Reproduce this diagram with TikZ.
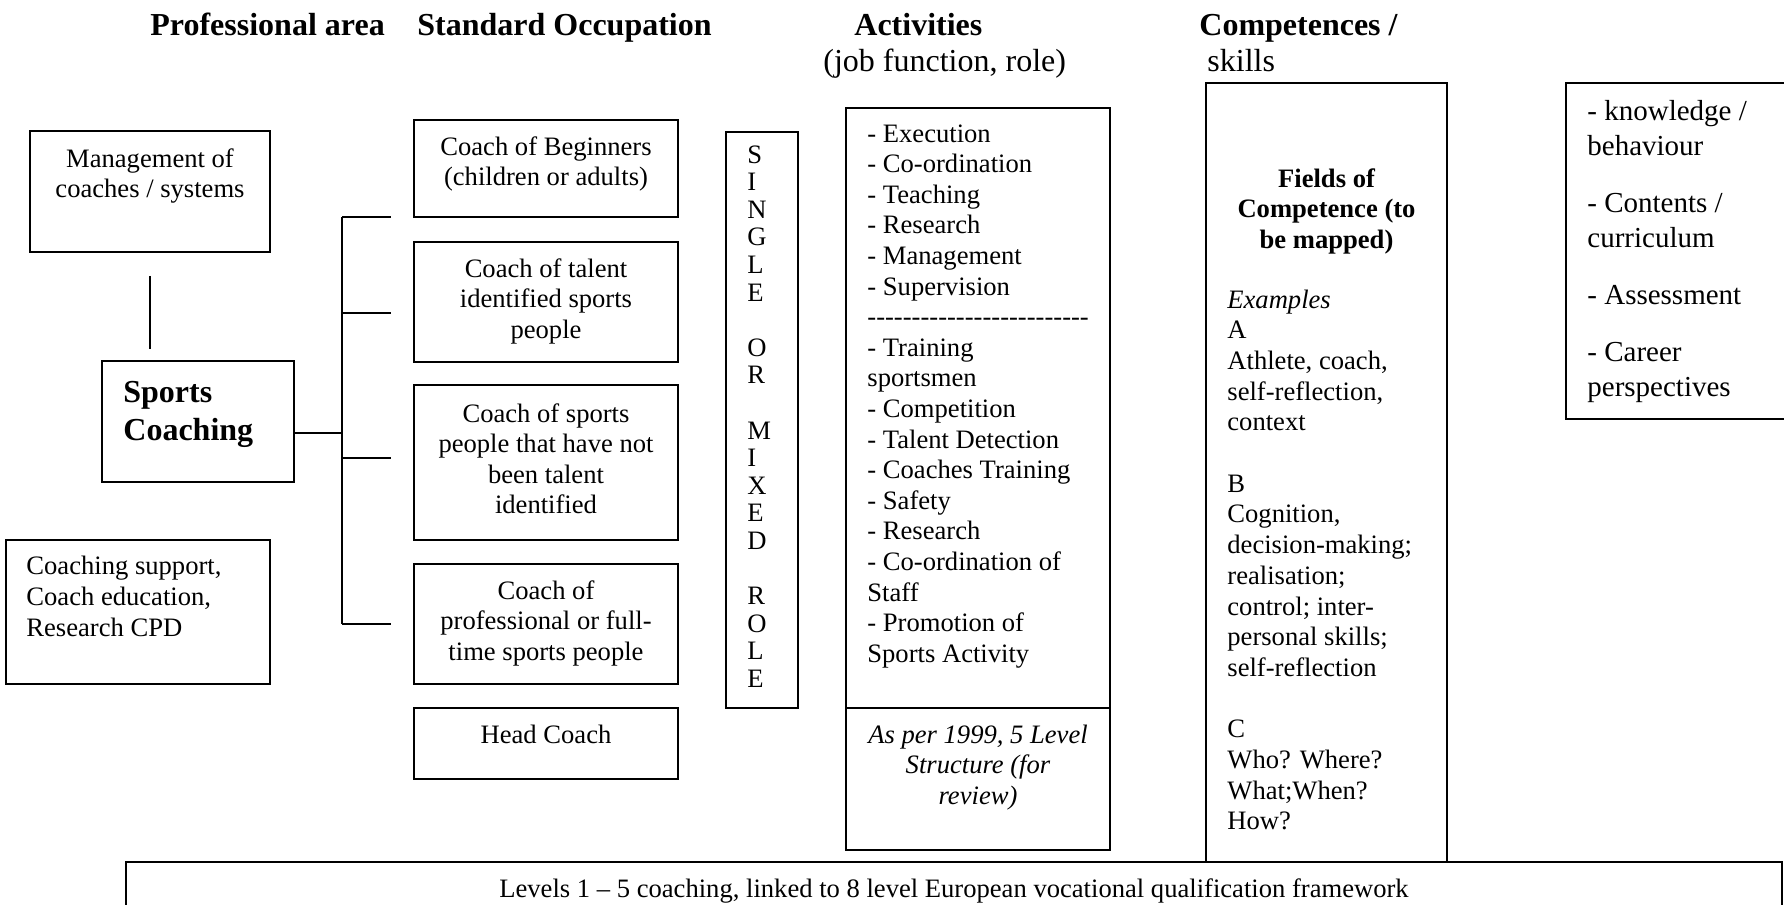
\documentclass[tikz,border=0pt]{standalone}
\usepackage{fontspec}
\setmainfont{Liberation Serif}
\usetikzlibrary{fit,calc}
\newcommand\Lc[1]{\vtop{\halign{\hfil##\hfil\cr#1\crcr}}}
\newcommand\Ll[1]{\vtop{\halign{##\hfil\cr#1\crcr}}}
\newcommand\hy{\mbox{-}}
\newcommand\hyfive{\hy\hy\hy\hy\hy}
\begin{document}
\begin{tikzpicture}[x=0.5pt,y=-0.5pt,
  box/.style={draw, line width=0.9pt, inner sep=0pt},
  conn/.style={line width=0.9pt},
  txt/.style={inner sep=0pt, font=\fontsize{13.3pt}{15.3pt}\selectfont},
  big/.style={inner sep=0pt, font=\fontsize{14.5pt}{17.5pt}\selectfont},
  hdr/.style={inner sep=0pt, font=\fontsize{16pt}{19pt}\selectfont\bfseries},
  hdrn/.style={inner sep=0pt, font=\fontsize{16pt}{19pt}\selectfont}]
\useasboundingbox (0,0) rectangle (1784,905);

% headers
\node[hdr, anchor=base west] (hpa) at (150,35) {Professional area};
\node[hdr, anchor=base west] (hso) at (417,35) {Standard Occupation};
\node[hdr, anchor=base west] (hac) at (854,35) {Activities};
\node[hdrn, anchor=base west] (hjf) at (823,71) {(job function, role)};
\node[hdr, anchor=base west] (hco) at (1199,35) {Competences /};
\node[hdrn, anchor=base west] (hsk) at (1207,71) {skills};

% boxes
\node[box, fit={(30,131)(270,252)}] (mgmt) {};
\node[box, fit={(102,361)(294,482)}] (sports) {};
\node[box, fit={(6,540)(270,684)}] (support) {};
\node[box, fit={(414,120)(678,217)}] (beg) {};
\node[box, fit={(414,242)(678,362)}] (tal) {};
\node[box, fit={(414,385)(678,540)}] (notid) {};
\node[box, fit={(414,564)(678,684)}] (prof) {};
\node[box, fit={(414,708)(678,779)}] (headc) {};
\node[box, fit={(726,132)(798,708)}] (single) {};
\node[box, fit={(846,108)(1110,708)}] (acttop) {};
\node[box, fit={(846,708)(1110,850)}] (actbot) {};
\node[box, fit={(1206,83)(1447,862)}] (fields) {};
\node[box, fit={(1566,83)(1800,419)}] (right) {};
\node[box, fit={(126,862)(1782,930)}] (bottom) {};

% texts
\node[txt, anchor=base] (tmg) at (150,167) {\Lc{Management of\cr coaches / systems}};
\node[hdr, anchor=base west] (tsp) at (123,402) {\Ll{Sports\cr Coaching}};
\node[txt, anchor=base west, font=\fontsize{13.3pt}{15.5pt}\selectfont] (tsu) at (26,574) {\Ll{Coaching support,\cr Coach education,\cr Research CPD}};
\node[txt, anchor=base] (tbe) at (546,155) {\Lc{Coach of Beginners\cr (children or adults)}};
\node[txt, anchor=base] (tta) at (546,277) {\Lc{Coach of talent\cr identified sports\cr people}};
\node[txt, anchor=base] (tni) at (546,422) {\Lc{Coach of sports\cr people that have not\cr been talent\cr identified}};
\node[txt, anchor=base] (tpr) at (546,599) {\Lc{Coach of\cr professional or full-\cr time sports people}};
\node[txt, anchor=base] (thc) at (546,743) {Head Coach};
\node[txt, anchor=base west, font=\fontsize{13.3pt}{13.8pt}\selectfont] (tsi) at (747,163)
  {\Ll{S\cr I\cr N\cr G\cr L\cr E\cr \cr O\cr R\cr \cr M\cr I\cr X\cr E\cr D\cr \cr R\cr O\cr L\cr E}};
\node[txt, anchor=base west] (tac) at (867,142) {\Ll{- Execution\cr - Co-ordination\cr - Teaching\cr - Research\cr - Management\cr - Supervision\cr
  \hyfive\hyfive\hyfive\hyfive\hyfive\cr
  - Training\cr sportsmen\cr - Competition\cr - Talent Detection\cr - Coaches Training\cr - Safety\cr - Research\cr - Co-ordination of\cr Staff\cr - Promotion of\cr Sports Activity}};
\node[txt, anchor=base, font=\fontsize{13.3pt}{15.3pt}\selectfont\itshape] (tas) at (978,743) {\Lc{As per 1999, 5 Level\cr Structure (for\cr review)}};
\node[txt, anchor=base, font=\fontsize{13.3pt}{15.3pt}\selectfont\bfseries] (tfi) at (1326.5,187) {\Lc{Fields of\cr Competence (to\cr be mapped)}};
\node[txt, anchor=base west, font=\fontsize{13.3pt}{15.35pt}\selectfont] (tex) at (1227,308) {\Ll{\textit{Examples}\cr A\cr Athlete, coach,\cr self-reflection,\cr context\cr \cr B\cr Cognition,\cr decision-making;\cr realisation;\cr control; inter-\cr personal skills;\cr self-reflection\cr \cr C\cr Who? Where?\cr What;When?\cr How?}};
\node[big, anchor=base west] (tri) at (1587,120) {\Ll{- knowledge /\cr behaviour\cr\noalign{\vskip11pt} - Contents /\cr curriculum\cr\noalign{\vskip11pt} - Assessment\cr\noalign{\vskip11pt} - Career\cr perspectives}};
\node[txt, anchor=base] (tbo) at (954,897) {Levels 1 – 5 coaching, linked to 8 level European vocational qualification framework};

% connectors
\draw[conn] ($(mgmt.south)+(0,23)$) -- ($(mgmt.south)+(0,96)$);
\coordinate (sj) at (342,433);
\coordinate (bt) at (342,217);
\coordinate (b2) at (342,313);
\coordinate (b3) at (342,458);
\coordinate (bb) at (342,624);
\coordinate (e1) at (391,217);
\coordinate (e2) at (391,313);
\coordinate (e3) at (391,458);
\coordinate (e4) at (391,624);
\draw[conn] ($(sports.east)+(0,11.5)$) -- (sj);
\draw[conn] (bt) -- (bb);
\draw[conn] (bt) -- (e1);
\draw[conn] (b2) -- (e2);
\draw[conn] (b3) -- (e3);
\draw[conn] (bb) -- (e4);
\end{tikzpicture}
\end{document}
